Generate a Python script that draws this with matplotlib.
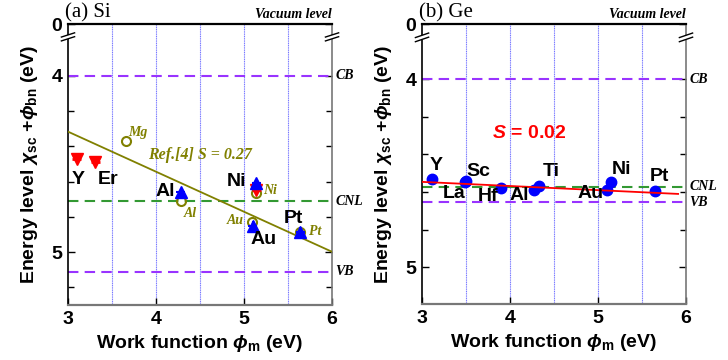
import matplotlib
matplotlib.use("Agg")
import matplotlib.pyplot as plt
import numpy as np

plt.rcParams["mathtext.fontset"] = "custom"
plt.rcParams["mathtext.rm"] = "Liberation Sans:bold"
plt.rcParams["mathtext.it"] = "Liberation Sans:italic:bold"
plt.rcParams["mathtext.bf"] = "Liberation Sans:bold"
plt.rcParams["mathtext.sf"] = "Liberation Sans:bold"

# ---------------- data ----------------
# Panel (a) Si
si_red_names = ["Y", "Er"]
si_red_x = [3.10, 3.31]
si_red_y = [4.47, 4.49]
si_ni_red_x = [5.14]
si_ni_red_y = [4.645]

si_blue_names = ["Al", "Ni", "Au", "Pt"]
si_blue_x = [4.28, 5.14, 5.10, 5.64]
si_blue_y = [4.66, 4.61, 4.85, 4.885]

ref_names = ["Mg", "Al", "Ni", "Au", "Pt"]
ref_x = [3.66, 4.28, 5.14, 5.09, 5.64]
ref_y = [4.37, 4.71, 4.665, 4.83, 4.885]

ref_line_x = [3.0, 6.0]
ref_line_y = [4.316, 4.998]

si_cb, si_cnl, si_vb = 4.00, 4.71, 5.11

# Panel (b) Ge
ge_names = ["Y", "La", "Sc", "Hf", "Al", "Ti", "Au", "Ni", "Pt"]
ge_x = [3.11, 3.49, 3.50, 3.90, 4.27, 4.33, 5.10, 5.15, 5.65]
ge_y = [4.532, 4.548, 4.544, 4.578, 4.59, 4.567, 4.59, 4.546, 4.595]

ge_fit_x = [3.0, 5.91]
ge_fit_y = [4.546, 4.610]

ge_cb, ge_cnl, ge_vb = 4.00, 4.573, 4.655

SANS = "Liberation Sans"
SERIF = "Liberation Serif"

fig = plt.figure(figsize=(7.28, 3.60), dpi=100)

PURPLE = "#9933ff"
GREEN = "#339933"
OLIVE = "#808000"
VBLUE = "#7777ff"


def setup(ax, ytop, ybot, cb, cnl, vb, title):
    ax.set_xlim(3, 6)
    ax.set_ylim(ybot, ytop)
    for xv in [3.5, 4, 4.5, 5, 5.5]:
        ax.axvline(xv, color=VBLUE, lw=0.8, ls=(0, (1, 0.6)), zorder=1)
    ax.axhline(cb, color=PURPLE, lw=1.5, ls=(0, (5, 3)), zorder=2)
    ax.axhline(vb, color=PURPLE, lw=1.5, ls=(0, (5, 3)), zorder=2)
    ax.axhline(cnl, color=GREEN, lw=1.5, ls=(0, (5, 3)), zorder=2)
    ax.set_xticks([3, 4, 5, 6])
    ax.set_xticklabels(["3", "4", "5", "6"])
    ax.set_yticks([ytop, 4, 5])
    ax.set_yticklabels(["0", "4", "5"])
    ax.set_yticks(np.arange(4.2, ybot, 0.2), minor=True)
    ax.tick_params(axis="both", which="major", direction="in", length=5,
                   width=1, labelsize=14, right=True, pad=4)
    ax.tick_params(axis="y", which="minor", direction="in", length=4,
                   width=1, right=True)
    for lab in ax.get_xticklabels() + ax.get_yticklabels():
        lab.set_fontfamily(SANS)
        lab.set_fontweight("bold")
    ax.spines["top"].set_linewidth(1.6)
    ax.spines["left"].set_linewidth(1.2)
    ax.spines["bottom"].set_color("#777777")
    ax.spines["bottom"].set_linewidth(1.6)
    ax.spines["right"].set_color("#777777")
    ax.spines["right"].set_linewidth(1.2)
    ax.set_xlabel(r"Work function $\phi_{\mathrm{m}}$ (eV)", fontsize=14,
                  fontfamily=SANS, fontweight="bold", labelpad=4)
    ax.set_ylabel(r"Energy level $\chi_{\mathrm{sc}}$ +$\phi_{\mathrm{bn}}$ (eV)",
                  fontsize=14, fontfamily=SANS, fontweight="bold", labelpad=8)
    # right side labels
    tr = ax.get_yaxis_transform()
    for val, txt in [(cb, "CB"), (cnl, "CNL"), (vb, "VB")]:
        ax.text(1.012, val, txt, transform=tr, ha="left", va="center",
                fontsize=10, fontfamily=SERIF, fontstyle="italic",
                fontweight="bold", clip_on=False)
    ax.text(1.0, 1.01, "Vacuum level", transform=ax.transAxes, ha="right",
            va="bottom", fontsize=10, fontfamily=SERIF, fontstyle="italic",
            fontweight="bold")
    ax.text(-0.01, 1.005, title, transform=ax.transAxes, ha="left",
            va="bottom", fontsize=15, fontfamily=SERIF)
    # axis break marks
    ybrk = 3.778
    for xa in [0.0, 1.0]:
        ax.plot([xa, xa], [ybrk - 0.012, ybrk + 0.012], transform=tr,
                color="white", lw=4, clip_on=False, zorder=10,
                solid_capstyle="butt")
        for dy in [-0.011, 0.011]:
            ax.plot([xa - 0.025, xa + 0.025], [ybrk + dy + 0.012, ybrk + dy - 0.012],
                    transform=tr, color="black", lw=1.0, clip_on=False,
                    zorder=11)


# ---------------- panel (a) ----------------
axa = fig.add_axes([0.0934, 0.1528, 0.3627, 0.7805])
setup(axa, 3.705, 5.30, si_cb, si_cnl, si_vb, "(a) Si")

axa.plot(ref_line_x, ref_line_y, color=OLIVE, lw=1.3, zorder=3)
axa.errorbar(si_red_x, si_red_y, xerr=0.05, yerr=0.02, fmt="v", color="red",
             ms=8, capsize=0, elinewidth=2, zorder=5)
axa.errorbar(si_ni_red_x, si_ni_red_y, xerr=0.05, yerr=0.02, fmt="v",
             color="red", ms=8, capsize=0, elinewidth=2, zorder=5)
axa.errorbar(si_blue_x, si_blue_y, xerr=0.05, yerr=0.025, fmt="^",
             color="blue", ms=8, capsize=0, elinewidth=1.5, zorder=6)
axa.plot(ref_x, ref_y, "o", mfc="none", mec=OLIVE, mew=1.5, ms=6.5, zorder=4)

lab_kw = dict(fontsize=14, fontfamily=SANS, fontweight="bold", ha="center",
              va="center", zorder=8)
a_lab_pos = {"Y": (3.11, 4.59), "Er": (3.45, 4.59), "Al": (4.10, 4.655),
             "Ni": (4.92, 4.60), "Au": (5.22, 4.93), "Pt": (5.56, 4.81)}
for name in si_red_names + si_blue_names:
    x, y = a_lab_pos[name]
    axa.text(x, y, name, **lab_kw)

it_kw = dict(fontsize=10, fontfamily=SERIF, fontstyle="italic",
             fontweight="bold", color=OLIVE, ha="center", va="center", zorder=8)
ref_lab_pos = {"Mg": (3.79, 4.32), "Al": (4.39, 4.78), "Ni": (5.30, 4.65),
               "Au": (4.90, 4.82), "Pt": (5.81, 4.885)}
for name in ref_names:
    x, y = ref_lab_pos[name]
    axa.text(x, y, name, **it_kw)
axa.text(4.50, 4.45, "Ref.[4] S = 0.27", fontsize=11.5, fontfamily=SERIF,
         fontstyle="italic", fontweight="bold", color=OLIVE, ha="center",
         va="center", zorder=8)

# ---------------- panel (b) ----------------
axb = fig.add_axes([0.5797, 0.1556, 0.3626, 0.7777])
setup(axb, 3.707, 5.195, ge_cb, ge_cnl, ge_vb, "(b) Ge")

axb.plot(ge_fit_x, ge_fit_y, color="red", lw=1.3, zorder=6)
axb.errorbar(ge_x, ge_y, xerr=0.04, fmt="o", color="blue", ms=7.5,
             capsize=0, elinewidth=2, zorder=5)

b_lab_pos = {"Y": (3.16, 4.457), "La": (3.37, 4.61), "Sc": (3.64, 4.49),
             "Hf": (3.75, 4.625), "Al": (4.11, 4.617), "Ti": (4.47, 4.49),
             "Au": (4.91, 4.607), "Ni": (5.27, 4.48), "Pt": (5.70, 4.52)}
for name in ge_names:
    x, y = b_lab_pos[name]
    axb.text(x, y, name, **lab_kw)

axb.text(4.22, 4.287, r"$S$ = 0.02", fontsize=14, fontfamily=SANS,
         fontweight="bold", color="red", ha="center", va="center")

fig.savefig("out.png", dpi=100)
